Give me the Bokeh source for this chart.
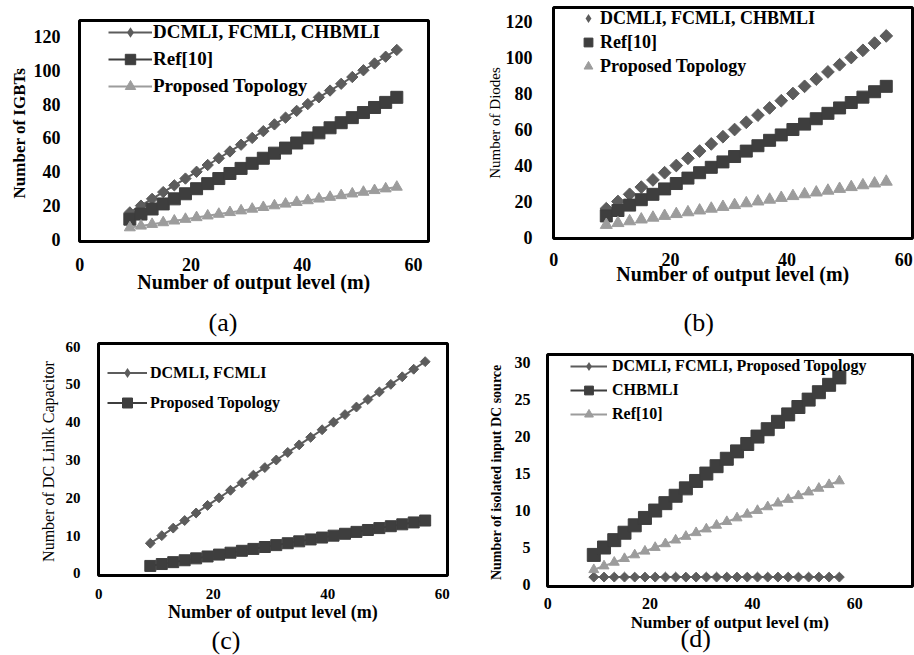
import math

from bokeh.plotting import figure
from bokeh.models import BoxAnnotation, FixedTicker, Range1d, Title
from bokeh.embed import file_html
from bokeh.resources import INLINE

# Number of output levels (odd values) shared by all four panels
levels = [9, 11, 13, 15, 17, 19, 21, 23, 25, 27, 29, 31, 33,
          35, 37, 39, 41, 43, 45, 47, 49, 51, 53, 55, 57]

# (a) number of IGBTs
igbt_classic = [16, 20, 24, 28, 32, 36, 40, 44, 48, 52, 56, 60, 64,
                68, 72, 76, 80, 84, 88, 92, 96, 100, 104, 108, 112]
igbt_ref10 = [12, 15, 18, 21, 24, 27, 30, 33, 36, 39, 42, 45, 48,
              51, 54, 57, 60, 63, 66, 69, 72, 75, 78, 81, 84]
igbt_proposed = [7, 8, 9, 10, 11, 12, 13, 14, 15, 16, 17, 18, 19,
                 20, 21, 22, 23, 24, 25, 26, 27, 28, 29, 30, 31]

# (b) number of diodes
diode_classic = [16, 20, 24, 28, 32, 36, 40, 44, 48, 52, 56, 60, 64,
                 68, 72, 76, 80, 84, 88, 92, 96, 100, 104, 108, 112]
diode_ref10 = [12, 15, 18, 21, 24, 27, 30, 33, 36, 39, 42, 45, 48,
               51, 54, 57, 60, 63, 66, 69, 72, 75, 78, 81, 84]
diode_proposed = [7, 8, 9, 10, 11, 12, 13, 14, 15, 16, 17, 18, 19,
                  20, 21, 22, 23, 24, 25, 26, 27, 28, 29, 30, 31]

# (c) number of DC link capacitors
cap_classic = [8, 10, 12, 14, 16, 18, 20, 22, 24, 26, 28, 30, 32,
               34, 36, 38, 40, 42, 44, 46, 48, 50, 52, 54, 56]
cap_proposed = [2, 2.5, 3, 3.5, 4, 4.5, 5, 5.5, 6, 6.5, 7, 7.5, 8,
                8.5, 9, 9.5, 10, 10.5, 11, 11.5, 12, 12.5, 13, 13.5, 14]

# (d) number of isolated input DC sources
src_classic = [1, 1, 1, 1, 1, 1, 1, 1, 1, 1, 1, 1, 1,
               1, 1, 1, 1, 1, 1, 1, 1, 1, 1, 1, 1]
src_chb = [4, 5, 6, 7, 8, 9, 10, 11, 12, 13, 14, 15, 16,
           17, 18, 19, 20, 21, 22, 23, 24, 25, 26, 27, 28]
src_ref10 = [2, 2.5, 3, 3.5, 4, 4.5, 5, 5.5, 6, 6.5, 7, 7.5, 8,
             8.5, 9, 9.5, 10, 10.5, 11, 11.5, 12, 12.5, 13, 13.5, 14]

x_ticks = [0, 20, 40, 60]
captions = ["(a)", "(b)", "(c)", "(d)"]

SERIF = "Liberation Serif"
C_DIAMOND = "#5c5c5c"
C_SQUARE = "#3e3e3e"
C_TRIANGLE = "#9c9c9c"


def panel(left_px, top_px, width, height, borders, xr, yr, yticks, ytitle,
          ytitle_style, ytitle_size, tick_size, xtitle_size, ylab_standoff,
          xlab_standoff, ytitle_standoff, xtitle_standoff):
    left, right, top, bottom = borders
    p = figure(width=width, height=height, output_backend="svg",
               toolbar_location=None, x_range=Range1d(*xr),
               y_range=Range1d(*yr),
               min_border_left=left, min_border_right=right,
               min_border_top=top, min_border_bottom=bottom)
    # each panel is placed on the page on its own
    p.styles = {"position": "absolute", "left": f"{left_px}px",
                "top": f"{top_px}px"}
    p.background_fill_color = "white"
    p.border_fill_color = None
    p.outline_line_color = "black"
    p.outline_line_width = 3
    # heavy black box around the plotting area
    p.add_layout(BoxAnnotation(fill_alpha=0, line_color="black",
                               line_width=3, line_alpha=1))
    p.xgrid.visible = False
    p.ygrid.visible = False
    p.xaxis.ticker = FixedTicker(ticks=x_ticks)
    p.yaxis.ticker = FixedTicker(ticks=yticks)
    for ax in (p.xaxis[0], p.yaxis[0]):
        ax.axis_line_color = None
        ax.major_tick_line_color = None
        ax.minor_tick_line_color = None
        ax.major_tick_out = 0
        ax.major_tick_in = 0
        ax.major_label_text_font = SERIF
        ax.major_label_text_font_style = "bold"
        ax.major_label_text_font_size = tick_size
        ax.major_label_text_color = "black"
        ax.axis_label_text_font = SERIF
        ax.axis_label_text_color = "black"
    p.yaxis.major_label_standoff = ylab_standoff
    p.xaxis.major_label_standoff = xlab_standoff
    p.xaxis.axis_label = "Number of output level (m)"
    p.xaxis.axis_label_text_font_style = "bold"
    p.xaxis.axis_label_text_font_size = xtitle_size
    p.xaxis.axis_label_standoff = xtitle_standoff
    p.yaxis.axis_label = ytitle
    p.yaxis.axis_label_text_font_style = ytitle_style
    p.yaxis.axis_label_text_font_size = ytitle_size
    p.yaxis.axis_label_standoff = ytitle_standoff
    return p


def caption(p, text, side, offset, standoff):
    p.add_layout(Title(text=text, align="left", offset=offset,
                       text_font=SERIF, text_font_size="26px",
                       text_font_style="normal", text_color="black",
                       standoff=standoff), side)


def series(p, y, marker, color, size, label, with_line=True):
    if with_line:
        p.line(levels, y, line_color=color, line_width=2, legend_label=label)
    if marker == "diamond":
        # a diamond glyph carries the legend entry; the visible marks are
        # squares turned by 45 degrees drawn over it
        p.scatter(levels, y, marker="diamond", size=size, fill_color=color,
                  line_color=None, legend_label=label)
        p.scatter(levels, y, marker="square", size=size, angle=math.pi / 4,
                  fill_color=color, line_color=color)
    else:
        p.scatter(levels, y, marker=marker, size=size,
                  fill_color=color, line_color=color, legend_label=label)


def style_legend(p, loc, glyph_w, glyph_h, spacing, standoff, font_size):
    lg = p.legend[0]
    lg.location = loc
    lg.margin = 0
    lg.padding = 0
    lg.spacing = spacing
    lg.glyph_width = glyph_w
    lg.glyph_height = glyph_h
    lg.label_height = glyph_h
    lg.label_standoff = standoff
    lg.label_text_font = SERIF
    lg.label_text_font_style = "bold"
    lg.label_text_font_size = font_size
    lg.label_text_color = "black"
    lg.label_text_baseline = "middle"
    lg.border_line_color = None
    lg.background_fill_alpha = 0


# ---- (a) IGBTs
pa = panel(0, 0, 457, 299, (79, 29, 20, 58), (-0.05, 62.7), (-1.2, 129.4),
           [0, 20, 40, 60, 80, 100, 120], "Number of  IGBTs", "bold",
           "17px", "18px", "20px", 19, 16, 2, -3)
series(pa, igbt_classic, "diamond", C_DIAMOND, 8, "DCMLI, FCMLI, CHBMLI")
series(pa, igbt_ref10, "square", C_SQUARE, 12, "Ref[10]")
series(pa, igbt_proposed, "triangle", C_TRIANGLE, 11, "Proposed Topology")
style_legend(pa, (29, 142), 44, 26, 1, 1, "19px")

# ---- (b) Diodes
pb = panel(457, 0, 457, 300, (96, 2, 7, 62), (-0.05, 61.5), (-0.55, 127.8),
           [0, 20, 40, 60, 80, 100, 120], "Number of Diodes", "normal",
           "15px", "18px", "20px", 21, 14, 0, -6)
series(pb, diode_classic, "diamond", C_DIAMOND, 9, "DCMLI, FCMLI, CHBMLI",
       with_line=False)
series(pb, diode_ref10, "square", C_SQUARE, 12, "Ref[10]", with_line=False)
series(pb, diode_proposed, "triangle", C_TRIANGLE, 12, "Proposed Topology",
       with_line=False)
style_legend(pb, (23, 161), 24, 22, 2, 0, "18px")

# ---- (c) DC link capacitors
pc = panel(0, 299, 457, 356, (98, 10, 44, 80), (-0.05, 60.9), (-0.53, 60.8),
           [0, 10, 20, 30, 40, 50, 60], "Number of  DC Linlk Capacitor",
           "normal", "16px", "15px", "18px", 18, 13, 6, 0)
series(pc, cap_classic, "diamond", C_DIAMOND, 7, "DCMLI, FCMLI")
series(pc, cap_proposed, "square", C_SQUARE, 11, "Proposed Topology")
style_legend(pc, (9, 160), 40, 25, 5, 3, "16px")

# ---- (d) isolated DC sources
pd = panel(457, 288, 457, 367, (90, 2, 66, 69), (-0.05, 71.3), (-0.27, 31.1),
           [0, 5, 10, 15, 20, 25, 30], "Number of isolated input DC  source",
           "bold", "14px", "16px", "17px", 17, 11, 8, 1)
series(pd, src_classic, "diamond", C_DIAMOND, 7,
       "DCMLI, FCMLI, Proposed Topology")
series(pd, src_chb, "square", C_SQUARE, 13, "CHBMLI")
series(pd, src_ref10, "triangle", C_TRIANGLE, 10, "Ref[10]")
style_legend(pd, (23, 161), 37, 22, 2, 5, "16px")

# sub-figure captions: (a) and (b) sit in the top margin of the panels
# below them, (c) and (d) in their own bottom margins
caption(pc, captions[0], "above", 110, 13)
caption(pd, captions[1], "above", 136, 35)
caption(pc, captions[2], "below", 113, -1)
caption(pd, captions[3], "below", 133, -26)

with open("out.html", "w") as f:
    f.write(file_html([pa, pb, pc, pd], INLINE))
